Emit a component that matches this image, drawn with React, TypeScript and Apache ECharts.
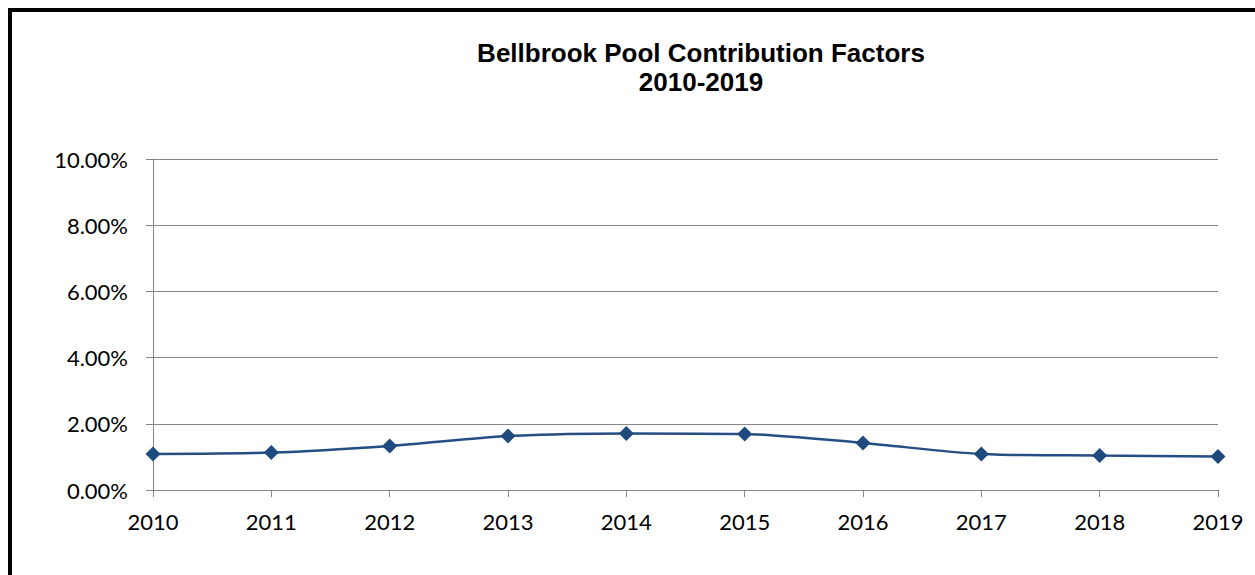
import React, { useEffect, useRef } from "react";
import * as echarts from "echarts";

const years = ["2010", "2011", "2012", "2013", "2014", "2015", "2016", "2017", "2018", "2019"];
const factors = [1.09, 1.13, 1.33, 1.63, 1.71, 1.69, 1.42, 1.09, 1.04, 1.01];
const yTicks = { min: 0, max: 10, interval: 2 };
const titleLines = ["Bellbrook Pool Contribution Factors", "2010-2019"];

const FONT = "Lato, 'Open Sans', 'DejaVu Sans', sans-serif";
const TITLE_FONT = "'Liberation Sans', Arial, 'DejaVu Sans', sans-serif";

export default function App() {
  const ref = useRef<HTMLDivElement>(null);
  useEffect(() => {
    if (!ref.current) return;
    const chart = echarts.init(ref.current, undefined, { renderer: "svg" });
    chart.setOption({
      animation: false,
      backgroundColor: "#ffffff",
      textStyle: { fontFamily: FONT },
      graphic: titleLines.map((t, i) => ({
        type: "text",
        x: 689,
        y: 28 + i * 29,
        style: {
          text: t,
          font: `bold 26px ${TITLE_FONT}`,
          fill: "#000",
          textAlign: "center",
          textVerticalAlign: "top",
          lineHeight: 26,
        },
      })),
      grid: { left: 141, top: 147, right: 37, bottom: 85, containLabel: false },
      xAxis: {
        type: "category",
        data: years,
        boundaryGap: false,
        axisLine: { show: true, lineStyle: { color: "#868686", width: 1 } },
        axisTick: { show: true, length: 7, alignWithLabel: true, lineStyle: { color: "#868686" } },
        axisLabel: { color: "#000", fontSize: 22, fontFamily: FONT, margin: 20, interval: 0 },
        splitLine: { show: false },
      },
      yAxis: {
        type: "value",
        min: yTicks.min,
        max: yTicks.max,
        interval: yTicks.interval,
        axisLine: { show: true, lineStyle: { color: "#868686", width: 1 } },
        axisTick: { show: true, length: 7, lineStyle: { color: "#868686" } },
        axisLabel: {
          color: "#000",
          fontSize: 22,
          fontFamily: FONT,
          margin: 25,
          formatter: (v: number) => v.toFixed(2) + "%",
        },
        splitLine: { show: true, lineStyle: { color: "#868686", width: 1 } },
      },
      series: [
        {
          type: "line",
          data: factors,
          smooth: 0.3,
          symbol: "diamond",
          symbolSize: 15,
          lineStyle: { color: "#254E84", width: 2.5 },
          itemStyle: { color: "#1F4A7E" },
        },
      ],
    });
    return () => chart.dispose();
  }, []);

  return (
    <div
      style={{
        position: "fixed",
        left: 8,
        top: 8,
        width: 1247,
        height: 567,
        borderTop: "4px solid #000",
        borderLeft: "4px solid #000",
        boxSizing: "border-box",
        overflow: "hidden",
        background: "#fff",
      }}
    >
      <div ref={ref} style={{ width: 1243, height: 563 }} />
    </div>
  );
}
